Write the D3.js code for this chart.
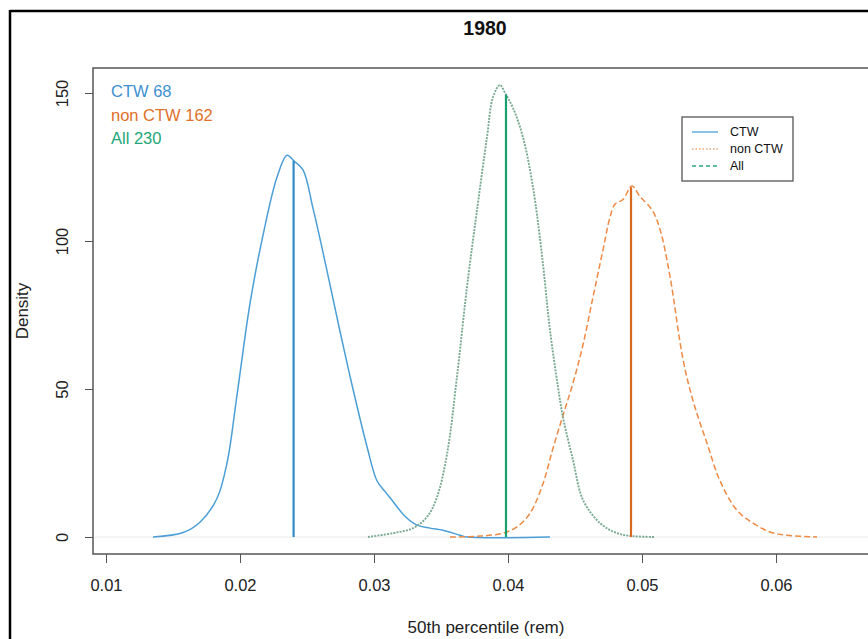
<!DOCTYPE html>
<html>
<head>
<meta charset="utf-8">
<script src="https://cdn.jsdelivr.net/npm/d3@7"></script>
<style>
  html, body { margin: 0; padding: 0; background: #fff; }
  svg { display: block; font-family: "Liberation Sans", Arial, Helvetica, sans-serif; }
</style>
</head>
<body>
<svg id="chart" width="868" height="639"></svg>
<script>
// ---- data ----
const title = "1980";
const xLabel = "50th percentile (rem)";
const yLabel = "Density";
const xTicks = [0.01, 0.02, 0.03, 0.04, 0.05, 0.06];
const yTicks = [0, 50, 100, 150];

const seriesNames = ["CTW", "non CTW", "All"];
const seriesCounts = [68, 162, 230];
const seriesMedians = [0.0240, 0.04918, 0.03985];

const ctwX = [0.01351, 0.01575, 0.01701, 0.01828, 0.01903, 0.01978, 0.02075, 0.02172, 0.02276, 0.02351, 0.02403, 0.02470, 0.02545, 0.02649, 0.02746, 0.02843, 0.02948, 0.03022, 0.03080, 0.03142, 0.03231, 0.03321, 0.03418, 0.03515, 0.03642, 0.03694, 0.04313];
const ctwD = [0, 1.5, 5, 13, 25, 48, 79, 102, 121.5, 129, 127, 124, 111, 90, 69.5, 50, 30.5, 19, 15.5, 12, 7, 4, 3, 2.3, 0.6, 0, 0];

const nonX = [0.03567, 0.03791, 0.03963, 0.04067, 0.04164, 0.04261, 0.04336, 0.04410, 0.04485, 0.04560, 0.04634, 0.04709, 0.04761, 0.04799, 0.04858, 0.04925, 0.04985, 0.05075, 0.05134, 0.05209, 0.05306, 0.05381, 0.05485, 0.05582, 0.05709, 0.05828, 0.05955, 0.06082, 0.06306];
const nonD = [0, 0.3, 1.3, 3.4, 8, 18, 30, 41, 52, 65, 81, 97, 108, 112.5, 114, 118.6, 115, 110.5, 104, 88, 60, 46, 31.7, 19, 9, 4.7, 1.7, 0.6, 0];

const allX = [0.02955, 0.03142, 0.03291, 0.03396, 0.03470, 0.03545, 0.03619, 0.03694, 0.03769, 0.03843, 0.03888, 0.03940, 0.03978, 0.04037, 0.04112, 0.04187, 0.04254, 0.04313, 0.04373, 0.04410, 0.04485, 0.04560, 0.04687, 0.04813, 0.04933, 0.05097];
const allD = [0, 1.3, 3, 6.8, 13.5, 28, 54, 84.5, 110.5, 135, 148.6, 152.7, 150, 145, 135, 118, 95, 70, 50.7, 40.5, 26, 12.5, 4.7, 1.3, 0.3, 0];

// ---- styling ----
const curveColors = ["#4b9fd6", "#ee8a45", "#79a992"];
const medianColors = ["#2f8ac6", "#d8681e", "#18a06e"];
const textColors = ["#3d90d2", "#e0702a", "#22a67a"];
const curveDash = [null, "6,3", "2,1.2"];
const curveWidth = [1.5, 1.5, 1.9];
const legendDash = [null, "1.5,2", "4,3"];
const legendColors = ["#4b9fd6", "#f2a474", "#2fa57d"];

const svg = d3.select("#chart");

// outer frame
svg.append("line").attr("x1", 10).attr("y1", 11).attr("x2", 868).attr("y2", 11)
  .attr("stroke", "#000").attr("stroke-width", 2.5);
svg.append("line").attr("x1", 10).attr("y1", 10).attr("x2", 10).attr("y2", 639)
  .attr("stroke", "#000").attr("stroke-width", 2.5);

// plot region
const plotL = 93, plotT = 68, plotR = 878, plotB = 554;

const x = d3.scaleLinear().domain([0.01, 0.06]).range([106, 776]);
const y = d3.scaleLinear().domain([0, 150]).range([537, 93]);

// zero baseline
svg.append("line").attr("x1", plotL).attr("x2", plotR)
  .attr("y1", y(0)).attr("y2", y(0))
  .attr("stroke", "#e8e8e8").attr("stroke-width", 1);

// curves
const line = d3.line().x(d => x(d[0])).y(d => y(d[1])).curve(d3.curveCatmullRom.alpha(0.5));
const allSeries = [
  d3.zip(ctwX, ctwD),
  d3.zip(nonX, nonD),
  d3.zip(allX, allD)
];
const curveFns = [ctwX, nonX, allX].map((xs, i) => ({xs, ds: [ctwD, nonD, allD][i]}));

allSeries.forEach((s, i) => {
  svg.append("path").datum(s)
    .attr("d", line)
    .attr("fill", "none")
    .attr("stroke", curveColors[i])
    .attr("stroke-width", curveWidth[i])
    .attr("stroke-dasharray", curveDash[i]);
});

// median lines, from zero to the curve height
function interp(xs, ds, v) {
  const i = d3.bisectLeft(xs, v);
  if (i <= 0) return ds[0];
  if (i >= xs.length) return ds[ds.length - 1];
  const t = (v - xs[i - 1]) / (xs[i] - xs[i - 1]);
  return ds[i - 1] + t * (ds[i] - ds[i - 1]);
}
seriesMedians.forEach((m, i) => {
  const h = interp(curveFns[i].xs, curveFns[i].ds, m);
  svg.append("line")
    .attr("x1", x(m)).attr("x2", x(m))
    .attr("y1", y(0)).attr("y2", y(h))
    .attr("stroke", medianColors[i]).attr("stroke-width", 2.2);
});

// box
svg.append("rect").attr("x", plotL).attr("y", plotT)
  .attr("width", plotR - plotL).attr("height", plotB - plotT)
  .attr("fill", "none").attr("stroke", "#555").attr("stroke-width", 1.5);

// axes
const xAxis = d3.axisBottom(x).tickValues(xTicks).tickFormat(d3.format(".2f")).tickSize(9).tickSizeOuter(0);
const gx = svg.append("g").attr("transform", `translate(0,${plotB})`).call(xAxis);
gx.select(".domain").remove();
gx.selectAll(".tick line").attr("stroke", "#555");
gx.selectAll(".tick text").attr("font-size", 16.5).attr("fill", "#222")
  .attr("dy", null).attr("y", 37);

const yAxis = d3.axisLeft(y).tickValues(yTicks).tickSize(8).tickSizeOuter(0);
const gy = svg.append("g").attr("transform", `translate(${plotL},0)`).call(yAxis);
gy.select(".domain").remove();
gy.selectAll(".tick line").attr("stroke", "#555");
gy.selectAll(".tick text")
  .attr("font-size", 16.5).attr("fill", "#222")
  .attr("x", null).attr("dy", null)
  .attr("text-anchor", "middle")
  .attr("transform", "translate(-25,0) rotate(-90)");

// labels
svg.append("text").attr("x", 485).attr("y", 35).attr("text-anchor", "middle")
  .attr("font-size", 19.5).attr("font-weight", "bold").attr("fill", "#111").text(title);
svg.append("text").attr("x", 486).attr("y", 633).attr("text-anchor", "middle")
  .attr("font-size", 17).attr("fill", "#222").text(xLabel);
svg.append("text").attr("transform", "translate(28,311) rotate(-90)").attr("text-anchor", "middle")
  .attr("font-size", 17).attr("fill", "#222").text(yLabel);

// counts text top-left
seriesNames.forEach((n, i) => {
  svg.append("text").attr("x", 111).attr("y", 97 + i * 23.5)
    .attr("font-size", 16.5).attr("fill", textColors[i])
    .text(n + " " + seriesCounts[i]);
});

// legend
const lg = svg.append("g");
lg.append("rect").attr("x", 682).attr("y", 117).attr("width", 111).attr("height", 64)
  .attr("fill", "#fff").attr("stroke", "#555").attr("stroke-width", 1.3);
seriesNames.forEach((n, i) => {
  const ly = 132 + i * 17;
  lg.append("line").attr("x1", 692).attr("x2", 718).attr("y1", ly).attr("y2", ly)
    .attr("stroke", legendColors[i]).attr("stroke-width", 1.3)
    .attr("stroke-dasharray", legendDash[i]);
  lg.append("text").attr("x", 730).attr("y", ly + 4)
    .attr("font-size", 12.5).attr("fill", "#111").text(n);
});
</script>
</body>
</html>
